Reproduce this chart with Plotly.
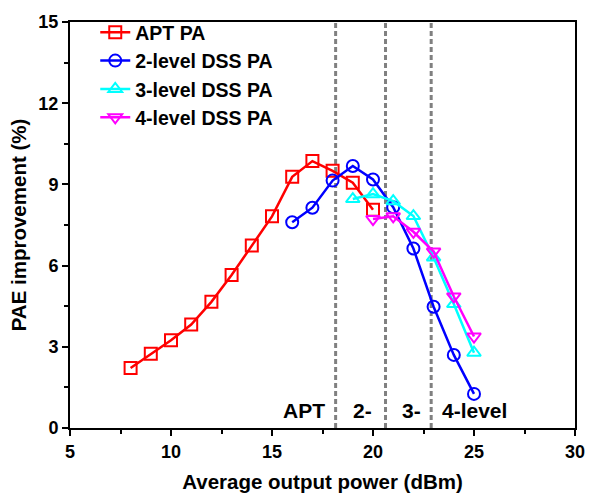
import plotly.graph_objects as go

apt_x = [8, 9, 10, 11, 12, 13, 14, 15, 16, 17, 18, 19, 20]
apt_y = [2.22, 2.74, 3.24, 3.82, 4.66, 5.65, 6.74, 7.82, 9.28, 9.86, 9.5, 9.06, 8.06]

l2_x = [16, 17, 18, 19, 20, 21, 22, 23, 24, 25]
l2_y = [7.6, 8.14, 9.14, 9.68, 9.18, 8.16, 6.63, 4.48, 2.7, 1.26]

l3_x = [19, 20, 21, 22, 23, 24, 25]
l3_y = [8.46, 8.64, 8.38, 7.83, 6.3, 4.58, 2.78]

l4_x = [20, 21, 22, 23, 24, 25]
l4_y = [7.72, 7.82, 7.25, 6.52, 4.86, 3.38]

boundaries = [18.15, 20.62, 22.88]
region_labels = ["APT", "2-", "3-", "4-level"]
region_label_x = [16.6, 19.5, 21.9, 25.0]

font_family = "Liberation Sans, Arial, sans-serif"

fig = go.Figure()

series = [
    ("APT PA", apt_x, apt_y, "red", "square-open"),
    ("2-level DSS PA", l2_x, l2_y, "blue", "circle-open"),
    ("3-level DSS PA", l3_x, l3_y, "cyan", "triangle-up-open"),
    ("4-level DSS PA", l4_x, l4_y, "magenta", "triangle-down-open"),
]
for name, xs, ys, col, sym in series:
    fig.add_trace(go.Scatter(
        x=xs, y=ys, name=name, mode="lines+markers",
        line=dict(color=col, width=2.5),
        marker=dict(symbol=sym, size=12, color=col, line=dict(color=col, width=2)),
    ))

for b in boundaries:
    fig.add_shape(type="line", x0=b, x1=b, y0=0, y1=15, xref="x", yref="y",
                  line=dict(color="#808080", width=3, dash="5px,3px"), layer="below")

for lab, lx in zip(region_labels, region_label_x):
    fig.add_annotation(x=lx, y=0.65, text=lab, showarrow=False,
                       xanchor="center", yanchor="middle",
                       font=dict(size=21, color="black", family=font_family, weight="bold"))

fig.update_layout(
    width=597, height=502,
    margin=dict(l=70, r=16, t=15, b=72),
    paper_bgcolor="white", plot_bgcolor="white",
    font=dict(family=font_family, color="black"),
    showlegend=True,
    legend=dict(x=0.05, y=1.022, xanchor="left", yanchor="top",
                bgcolor="rgba(0,0,0,0)",
                font=dict(size=19.5, family=font_family, weight="bold"),
                itemwidth=30, tracegroupgap=0),
)
fig.update_xaxes(
    range=[5, 30], tickmode="array", tickvals=[5, 10, 15, 20, 25, 30],
    ticks="outside", ticklen=6, tickwidth=2, tickcolor="black",
    minor=dict(tickvals=[7.5, 12.5, 17.5, 22.5, 27.5], ticks="outside", ticklen=4, tickwidth=2, tickcolor="black"),
    showline=True, linecolor="black", linewidth=2, mirror=True,
    showgrid=False, zeroline=False,
    tickfont=dict(size=18, family=font_family, weight="bold"),
    title=dict(text="Average output power (dBm)",
               font=dict(size=20.5, family=font_family, weight="bold"), standoff=14),
)
fig.update_yaxes(
    range=[0, 15], tickmode="array", tickvals=[0, 3, 6, 9, 12, 15],
    ticks="outside", ticklen=6, tickwidth=2, tickcolor="black",
    minor=dict(tickvals=[1.5, 4.5, 7.5, 10.5, 13.5], ticks="outside", ticklen=4, tickwidth=2, tickcolor="black"),
    showline=True, linecolor="black", linewidth=2, mirror=True,
    showgrid=False, zeroline=False,
    tickfont=dict(size=18, family=font_family, weight="bold"),
    title=dict(text="PAE improvement (%)",
               font=dict(size=20.5, family=font_family, weight="bold"), standoff=6),
)

fig.write_html("out.html")
